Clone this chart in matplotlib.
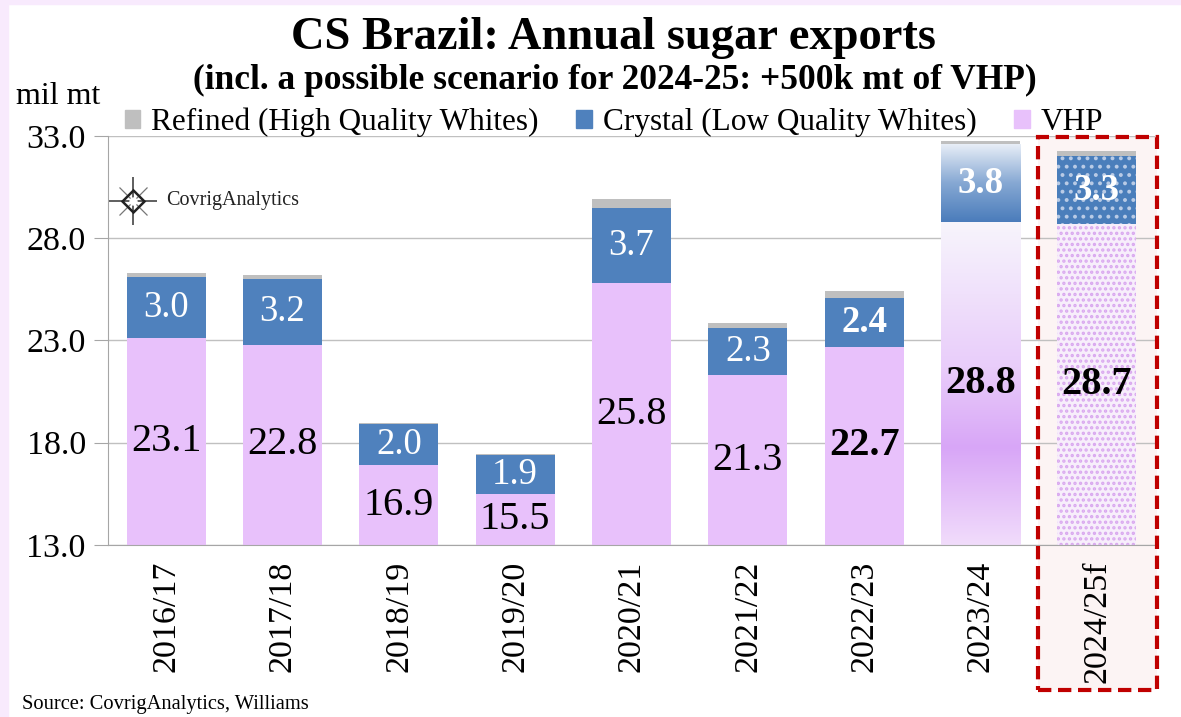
import numpy as np
import matplotlib
matplotlib.use("Agg")
import matplotlib.pyplot as plt
from matplotlib.patches import Rectangle
from matplotlib.colors import LinearSegmentedColormap
from matplotlib.lines import Line2D
import matplotlib.transforms as mtransforms

# ---------------- data ----------------
categories = ['2016/17', '2017/18', '2018/19', '2019/20', '2020/21',
              '2021/22', '2022/23', '2023/24', '2024/25f']
vhp = [23.1, 22.8, 16.9, 15.5, 25.8, 21.3, 22.7, 28.8, 28.7]
crystal = [3.0, 3.2, 2.0, 1.9, 3.7, 2.3, 2.4, 3.8, 3.3]
refined = [0.2, 0.2, 0.05, 0.05, 0.4, 0.25, 0.3, 0.15, 0.25]
bold_labels = [False, False, False, False, False, False, True, True, True]
yticks = [13.0, 18.0, 23.0, 28.0, 33.0]

# ---------------- style ----------------
SERIF = ['Liberation Serif', 'DejaVu Serif']
plt.rcParams['font.family'] = SERIF
C_VHP = '#e8c1fb'
C_CRY = '#4f81bd'
C_REF = '#bfbfbf'
GRID = '#c0c0c0'

W, H = 1181, 717
fig = plt.figure(figsize=(W / 100, H / 100), dpi=100, facecolor='white')
ax = fig.add_axes([108 / W, 1 - 545 / H, (1155 - 108) / W, (545 - 136) / H])
ax.set_facecolor('none')

# lavender frame strips
fig.add_artist(Rectangle((0, 0), 8 / W, 1, transform=fig.transFigure,
                         color='#f8eafd', zorder=0))
fig.add_artist(Rectangle((0, 1 - 4 / H), 1, 4 / H, transform=fig.transFigure,
                         color='#f8eafd', zorder=0))

x = np.arange(len(categories))
bw = 0.68
n = len(categories)
ylo, yhi = yticks[0], yticks[-1]

# forecast highlight box (background + dashed outline)
blend = mtransforms.blended_transform_factory(ax.transData, ax.transAxes)
box_x0, box_x1 = x[-1] - 0.51, x[-1] + 0.52
ax.add_patch(Rectangle((box_x0, -0.355), box_x1 - box_x0, 1.352,
                       transform=blend, facecolor='#fcf4f4', edgecolor='none',
                       zorder=0.2, clip_on=False))

# grid
for yv in yticks:
    ax.axhline(yv, color=GRID, lw=1.0, zorder=0.5)

normal = slice(0, n - 2)
ax.bar(x[normal], vhp[normal], bw, color=C_VHP, zorder=2)
ax.bar(x[normal], crystal[normal], bw, bottom=vhp[normal], color=C_CRY, zorder=2)
ax.bar(x[normal], refined[normal], bw,
       bottom=np.array(vhp[normal]) + np.array(crystal[normal]), color=C_REF, zorder=2)

# 2023/24: gradient bars
i = n - 2
vb = ax.bar(x[i], vhp[i], bw, color='none', zorder=2)[0]
cb = ax.bar(x[i], crystal[i], bw, bottom=vhp[i], color='none', zorder=2)[0]
ax.bar(x[i], refined[i], bw, bottom=vhp[i] + crystal[i], color=C_REF, zorder=2)

vcmap = LinearSegmentedColormap.from_list(
    'v', [(0.0, '#f1dcfb'), (0.3, '#d8a6f7'), (0.55, '#e9cdfa'), (1.0, '#f7f5fc')])
grad = np.linspace(0, 1, 256).reshape(-1, 1)
im = ax.imshow(grad, cmap=vcmap, origin='lower', aspect='auto',
               extent=[x[i] - bw / 2, x[i] + bw / 2, ylo, vhp[i]], zorder=2)
im.set_clip_path(vb)
ccmap = LinearSegmentedColormap.from_list('c', ['#4a7cbb', '#86a8d3', '#e8eef7'])
im2 = ax.imshow(grad, cmap=ccmap, origin='lower', aspect='auto',
                extent=[x[i] - bw / 2, x[i] + bw / 2, vhp[i], vhp[i] + crystal[i]],
                zorder=2)
im2.set_clip_path(cb)

# 2024/25f: patterned bars
j = n - 1
plt.rcParams['hatch.linewidth'] = 1.6
ax.bar(x[j], vhp[j], bw, color='#f7eefb', zorder=2)
ax.bar(x[j], vhp[j], bw, facecolor='none', edgecolor='#d9a7ef', hatch='...', lw=0, zorder=2.1)
ax.bar(x[j], crystal[j], bw, bottom=vhp[j], color='#4a7ebb', zorder=2)
ax.bar(x[j], crystal[j], bw, bottom=vhp[j], facecolor='none', edgecolor='#b9cbe6',
       hatch='..', lw=0, zorder=2.1)
ax.bar(x[j], refined[j], bw, bottom=vhp[j] + crystal[j], color=C_REF, zorder=2)

# dashed outline
ax.add_patch(Rectangle((box_x0, -0.355), box_x1 - box_x0, 1.352,
                       transform=blend, facecolor='none', edgecolor='#c00000',
                       lw=3, ls=(0, (3.2, 1.6)), zorder=5, clip_on=False))

ax.set_xlim(-0.5, n - 0.5)
ax.set_ylim(ylo, yhi)

# value labels
for k in range(n):
    fw = 'bold' if bold_labels[k] else 'normal'
    ax.text(x[k], (ylo + vhp[k]) / 2, f'{vhp[k]:.1f}', ha='center', va='center',
            fontsize=29, fontweight=fw, color='black', zorder=6)
    ax.text(x[k], vhp[k] + crystal[k] / 2, f'{crystal[k]:.1f}', ha='center',
            va='center', fontsize=26.5, fontweight=fw, color='white', zorder=6)

# axes styling
for s in ['top', 'right']:
    ax.spines[s].set_visible(False)
ax.spines['left'].set_color('#a6a6a6')
ax.spines['bottom'].set_color('#a6a6a6')
ax.set_yticks(yticks)
ax.set_yticklabels([f'{v:.1f}' for v in yticks], fontsize=24.5)
ax.tick_params(axis='y', length=10, color='#a6a6a6', pad=6)
ax.set_xticks(x)
ax.set_xticklabels(categories, rotation=90, fontsize=24.5)
ax.tick_params(axis='x', length=0, pad=11)

# titles
fig.text(613 / W, 1 - 38 / H, 'CS Brazil: Annual sugar exports', ha='center',
         va='center', fontsize=33.5, fontweight='bold')
fig.text(615 / W, 1 - 80 / H,
         '(incl. a possible scenario for 2024-25: +500k mt of VHP)', ha='center',
         va='center', fontsize=25.5, fontweight='bold')
fig.text(16 / W, 1 - 96 / H, 'mil mt', ha='left', va='center', fontsize=23)

# legend
handles = [Rectangle((0, 0), 1, 1, color=C_REF),
           Rectangle((0, 0), 1, 1, color=C_CRY),
           Rectangle((0, 0), 1, 1, color=C_VHP)]
labels = ['Refined (High Quality Whites)', 'Crystal (Low Quality Whites)', 'VHP']
fig.legend(handles, labels, loc='center', bbox_to_anchor=(614 / W, 1 - 122 / H),
           ncol=3, frameon=False, fontsize=22.5, handlelength=0.5, handleheight=0.5,
           handletextpad=0.35, columnspacing=1.2, borderaxespad=0)

# logo
cx, cy = 133 / W, 1 - 201 / H
for mk, ms, mew, col in [('+', 34, 1.2, '#444444'), ('x', 20, 0.9, '#777777'),
                         ('D', 11, 1.8, '#222222'), ('o', 5, 1.0, '#ffffff')]:
    fig.add_artist(Line2D([cx], [cy], marker=mk, markersize=ms, mew=mew,
                          color=col, markeredgecolor=col if mk != 'D' else '#222222',
                          markerfacecolor=col if mk != 'D' else 'none',
                          transform=fig.transFigure, zorder=7))
fig.text(166 / W, cy, 'CovrigAnalytics', ha='left', va='center', fontsize=14.5,
         color='#222222', zorder=7)

# source
fig.text(22 / W, 1 - 704 / H, 'Source: CovrigAnalytics, Williams', ha='left',
         va='center', fontsize=14.8)

fig.savefig('out.png', dpi=100, facecolor='white')
